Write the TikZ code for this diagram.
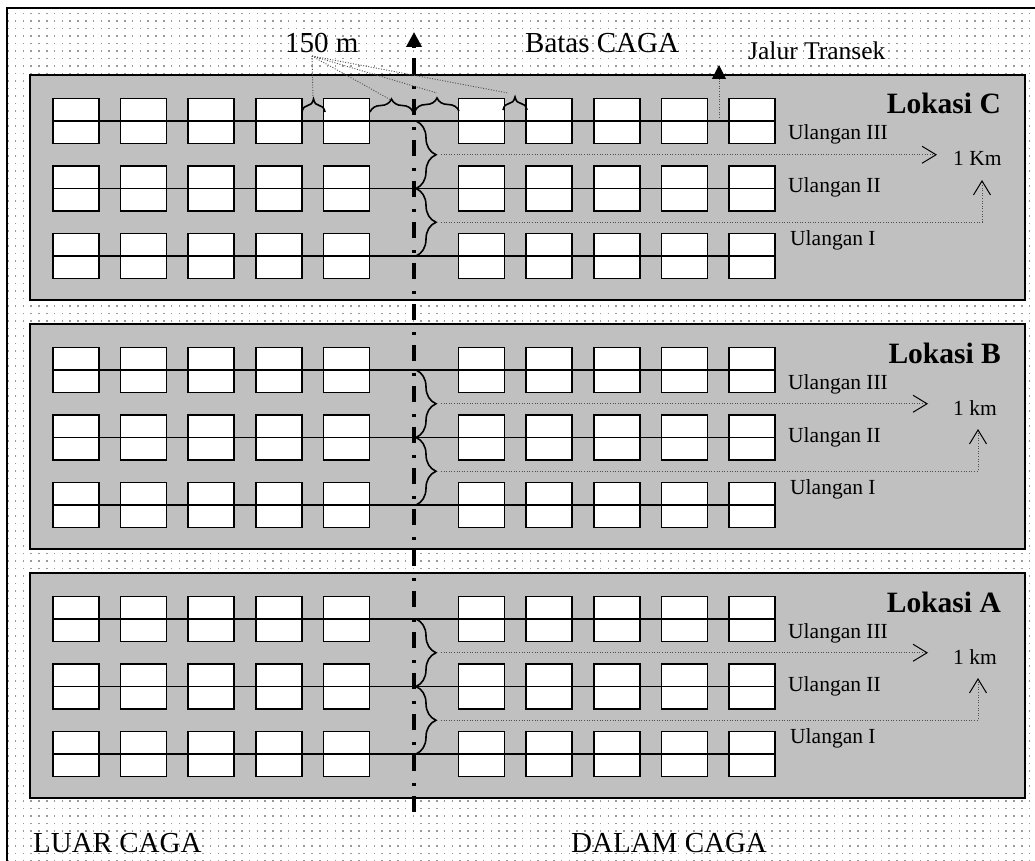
\documentclass[tikz,border=0pt]{standalone}
\usepackage{fontspec}
\setmainfont{Liberation Serif}
\usetikzlibrary{patterns,arrows.meta,decorations.pathreplacing}
\pgfdeclarepatternformonly{sparsedots}{\pgfqpoint{-1pt}{-1pt}}{\pgfqpoint{1pt}{1pt}}{\pgfqpoint{7.8pt}{7.5pt}}{\pgfpathrectangle{\pgfqpoint{-0.85pt}{-0.85pt}}{\pgfqpoint{1.7pt}{1.7pt}}\pgfusepath{fill}}
\definecolor{panelgrey}{HTML}{C0C0C0}
\definecolor{dotgrey}{HTML}{9A9A9A}
\definecolor{dotline}{HTML}{505050}
\tikzset{
  panelbox/.style={draw=black, line width=2pt, fill=panelgrey, inner sep=0pt, outer sep=0pt},
  plotbox/.style={draw=black, line width=1.6pt, fill=white, minimum width=46pt, minimum height=45pt, inner sep=0pt, outer sep=0pt},
  rowline/.style={line width=1.6pt},
  axisline/.style={line width=3.5pt, dash pattern=on 16pt off 10pt on 3pt off 12pt, -{Triangle[length=15pt,width=15pt]}},
  bracev/.style={decorate, decoration={brace, amplitude=20pt}, line width=1.6pt},
  braceh/.style={decorate, decoration={brace, amplitude=13pt}, line width=1.6pt},
  dotted line/.style={draw=dotline, line width=0.9pt, dash pattern=on 1pt off 1.6pt},
  chev/.style={-{Straight Barb[length=14pt,width=17pt,line width=1pt,color=black]}},
  uptip/.style={-{Straight Barb[length=14pt,width=17pt,line width=1pt,color=black]}},
  filltip/.style={-{Triangle[length=14pt,width=14pt,color=black]}},
  ulabel/.style={font=\fontsize{21.5}{24}\selectfont, inner sep=0pt, anchor=base west},
  kmlabel/.style={font=\fontsize{21.5}{24}\selectfont, inner sep=0pt, anchor=base west},
  lokasi/.style={font=\fontsize{29.5}{32}\selectfont\bfseries, inner sep=0pt, anchor=base east},
  bigtext/.style={font=\fontsize{29}{32}\selectfont, inner sep=0pt, anchor=base west},
}
\begin{document}
\begin{tikzpicture}[x=1pt,y=-1pt]
\useasboundingbox (0,0) rectangle (1035,861);
\fill[white] (0,0) rectangle (1035,861);
\draw[line width=2pt, pattern=sparsedots, pattern color=dotgrey] (7,8) rectangle (1050,880);

\foreach \p/\name/\kk/\chx/\upx in {0/C/K/937/982, 1/B/k/928/978, 2/A/k/928/978} {
  \pgfmathsetmacro\dy{249*\p}
  \pgfmathsetmacro\ptop{75+\dy}
  \node[panelbox, anchor=north west, minimum width=995pt, minimum height=225pt] (panel-\name) at (30,\ptop) {};
  \foreach \r in {0,1,2} {
    \pgfmathsetmacro\ly{121+67.5*\r+\dy}
    \foreach \k in {0,1,2,3,4,6,7,8,9,10} {
      \node[plotbox] (s-\name-\r-\k) at ({76+67.6*\k},\ly) {};
    }
    \draw[rowline] (s-\name-\r-0.west) -- (s-\name-\r-10.east);
  }
  \pgfmathsetmacro\ya{121+\dy}
  \pgfmathsetmacro\yb{188.5+\dy}
  \pgfmathsetmacro\yc{256+\dy}
  \pgfmathsetmacro\tipa{154.75+\dy}
  \pgfmathsetmacro\tipb{222.25+\dy}
  \pgfmathsetmacro\upy{180+\dy}
  \coordinate (ba-\name) at (416,\ya);
  \coordinate (bb-\name) at (416,\yb);
  \coordinate (bc-\name) at (416,\yc);
  \coordinate (ta-\name) at (441,\tipa);
  \coordinate (tb-\name) at (441,\tipb);
  \coordinate (ca-\name) at (\chx,\tipa);
  \coordinate (cb-\name) at (\upx,\tipb);
  \coordinate (cu-\name) at (\upx,\upy);
  \draw[bracev] (ba-\name) -- (bb-\name);
  \draw[bracev] (bb-\name) -- (bc-\name);
  \draw[dotted line, chev] (ta-\name) -- (ca-\name);
  \draw[dotted line, uptip] (tb-\name) -- (cb-\name) -- (cu-\name);
  \node[ulabel] (u3-\name) at (788,{140+\dy}) {Ulangan III};
  \node[ulabel] (u2-\name) at (788,{193+\dy}) {Ulangan II};
  \node[ulabel] (u1-\name) at (790,{245+\dy}) {Ulangan I};
  \node[kmlabel] (km-\name) at (953,{166+\dy}) {1 \kk m};
  \node[lokasi] (lok-\name) at (1001,{114+\dy}) {Lokasi \name};
}

% axis (Batas CAGA)
\coordinate (axbot) at (414,812);
\coordinate (axtop) at (414,32);
\draw[axisline] (axbot) -- (axtop);

% top braces (150 m)
\coordinate (h1a) at (302,112); \coordinate (h1b) at (325,112);
\coordinate (h2a) at (370,112); \coordinate (h2b) at (413,112);
\coordinate (h3a) at (415,111); \coordinate (h3b) at (459,111);
\coordinate (h4a) at (503,110); \coordinate (h4b) at (527,110);
\draw[braceh] (h1a) -- (h1b);
\draw[braceh] (h2a) -- (h2b);
\draw[braceh] (h3a) -- (h3b);
\draw[braceh] (h4a) -- (h4b);
\node[bigtext] (t150) at (285,53) {150 m};
\coordinate (fan) at (312,56);
\coordinate (f1) at (313,98);
\coordinate (f2) at (391,100);
\coordinate (f3) at (437,93);
\coordinate (f4) at (508,93);
\draw[dotted line] (fan) -- (f1);
\draw[dotted line] (fan) -- (f2);
\draw[dotted line] (fan) -- (f3);
\draw[dotted line] (fan) -- (f4);

\node[bigtext] (batas) at (525,53) {Batas CAGA};
\node[bigtext, font=\fontsize{25.5}{28}\selectfont] (jalur) at (748,60) {Jalur Transek};
\coordinate (jbot) at (719,118);
\coordinate (jtop) at (719,65);
\draw[dotted line, filltip] (jbot) -- (jtop);

\node[bigtext] (luar) at (33,852) {LUAR CAGA};
\node[bigtext] (dalam) at (571,852) {DALAM CAGA};
\end{tikzpicture}
\end{document}
